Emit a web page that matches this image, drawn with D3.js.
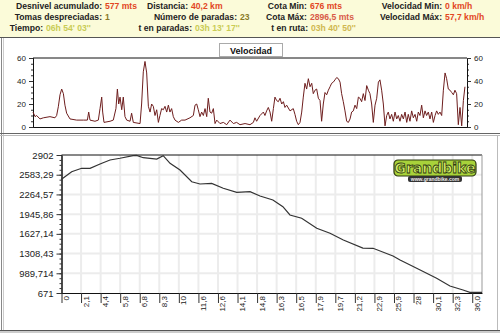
<!DOCTYPE html>
<html>
<head>
<meta charset="utf-8">
<script src="https://cdn.jsdelivr.net/npm/d3@7"></script>
<style>
body { margin: 0; background: #fff; }
svg { display: block; font-family: "Liberation Sans", Arial, sans-serif; }
</style>
</head>
<body>
<div id="root"></div>
<script>
// resumen de la ruta (cabecera)
var infoLabels = [
  ["Desnivel acumulado:", "Tomas despreciadas:", "Tiempo:"],
  ["Distancia:", "Número de paradas:", "t en paradas:"],
  ["Cota Min:", "Cota Máx:", "t en ruta:"],
  ["Velocidad Min:", "Velocidad Máx:"]
];
var infoValues = [
  ["577 mts", "1", "06h 54' 03''"],
  ["40,2 km", "23", "03h 13' 17''"],
  ["676 mts", "2896,5 mts", "03h 40' 50''"],
  ["0 km/h", "57,7 km/h"]
];

// velocidad [km, km/h]
var velocidad = [
  [0,13],[0.17,9],[0.3,10],[0.58,7],[0.86,8],[1.41,9],[1.82,8],[1.96,10],[2.1,17.6],[2.24,28],[2.38,33],[2.52,29],
  [2.65,19],[2.79,12],[3.07,7],[3.62,6],[4.18,6],[4.51,6],[4.62,13],[4.73,6],[5.14,5],[5.42,6],[5.56,16],[5.7,26],
  [5.78,13],[5.89,4],[6.39,5],[6.66,6],[6.88,16],[7.0,33],[7.11,20],[7.22,26],[7.36,15],[7.49,26],[7.63,9],[7.77,6],
  [8.05,5],[8.18,12],[8.32,4],[8.88,3],[9.01,20],[9.15,48],[9.29,57],[9.43,47],[9.57,18],[9.71,13],[9.84,20],[9.98,18],
  [10.12,10],[10.26,15],[10.4,4],[10.53,10],[10.67,16],[10.81,15],[10.95,18],[11.09,13],[11.23,19],[11.36,13],[11.5,16],
  [11.64,9],[11.78,6],[12.06,4],[12.33,6],[12.61,6],[13.02,8],[13.3,10],[13.44,19],[13.58,20],[13.71,15],[13.85,9],
  [13.99,13],[14.13,10],[14.27,16],[14.41,9],[14.54,25],[14.68,13],[14.82,12],[14.96,16],[15.1,3],[15.24,6],[15.51,3],
  [15.79,4],[16.07,2],[16.34,6],[16.62,3],[16.89,4],[17.17,2],[17.59,3],
  [18.0,2],[18.28,4],[18.41,8],[18.55,5],[18.83,10],[19.11,13],[19.24,10],[19.38,14],[19.52,17],[19.66,13],[19.8,5],
  [19.94,16],[20.07,26],[20.21,23],[20.35,22],[20.49,25],[20.63,20],[20.77,22],[20.9,17],[21.04,19],[21.32,14],[21.59,16],
  [21.73,11],[21.87,5],[22.01,2],[22.15,4],[22.29,13],[22.42,26],[22.56,38],[22.7,33],[22.84,42],[22.98,35],[23.12,38],
  [23.25,29],[23.39,32],[23.53,33],[23.67,25],[23.81,23],[23.94,5],[24.08,20],[24.22,30],[24.36,28],[24.5,32],[24.64,35],
  [24.77,38],[24.91,39],[25.05,41],[25.19,43],[25.33,42],[25.47,39],[25.6,29],[25.74,22],[25.88,14],[26.02,5],[26.16,4],
  [26.3,7],[26.43,13],[26.57,14],[26.71,19],[26.85,16],[26.99,26],[27.12,25],[27.26,22],[27.4,29],[27.54,23],[27.68,36],
  [27.82,32],[27.95,29],[28.09,20],[28.23,4],[28.37,19],[28.51,25],[28.65,39],[28.78,41],[28.92,32],[29.06,20],[29.2,1],
  [29.34,10],[29.47,13],[29.61,7],[29.75,11],[29.89,5],[30.03,13],[30.17,7],[30.3,10],[30.44,5],[30.58,11],[30.72,7],
  [30.86,13],[31.0,4],[31.13,11],[31.27,5],[31.41,14],[31.55,8],[31.69,11],[31.83,5],[31.96,13],[32.1,10],[32.24,19],
  [32.38,8],[32.52,14],[32.65,10],[32.79,13],[32.93,7],[33.07,13],[33.21,4],[33.35,10],[33.48,14],[33.62,11],[33.76,13],
  [33.9,10],[34.04,32],[34.18,47],[34.31,42],[34.45,33],[34.59,32],[34.73,30],[34.87,28],[35.0,32],[35.14,29],[35.28,2],
  [35.42,17],[35.56,1],[35.7,23],[35.83,35]
];
var velTicks = [0, 20, 40, 60];

// perfil de altitud [posicion en el eje, metros]
var perfil = [
  [0,2509],[0.52,2632],[1.03,2687],[1.46,2687],[1.97,2756],[2.48,2821],[2.99,2849],[3.66,2891],[3.84,2896],
  [4.18,2858],[4.87,2837],[5.2,2891],[5.55,2768],[6.06,2660],[6.66,2470],[7.08,2433],[7.68,2444],[8.27,2364],
  [8.96,2299],[9.64,2309],[10.15,2239],[10.81,2174],[11.32,2066],[11.68,1932],[12.28,1879],[13.05,1717],[13.73,1636],
  [14.41,1528],[15.41,1398],[15.93,1394],[16.95,1269],[17.31,1204],[18.16,1070],[19.18,909],[19.86,784],[20.53,719],
  [20.88,682],[21.5,682]
];
var altTicks = [671, 989.714, 1308.43, 1627.14, 1945.86, 2264.57, 2583.29, 2902];
var kmLabels = ["0","2,1","4,4","5,8","6,8","8,3","10","11,6","12,6","14,1","14,8","16,3","16,5","17,9",
  "19,7","21,2","22,9","25,9","28","30,1","32,3","36,0"];

var W = 500, H = 333;
var svg = d3.select("#root").append("svg").attr("width", W).attr("height", H);

// fondos y marcos
svg.append("rect").attr("width", W).attr("height", H).attr("fill", "#fff");
svg.append("rect").attr("x", 0).attr("y", 0).attr("width", W).attr("height", 37).attr("fill", "#fbfbd9");
svg.append("line").attr("x1", 0).attr("x2", W).attr("y1", 37.5).attr("y2", 37.5).attr("stroke", "#555");
svg.append("line").attr("x1", 1.5).attr("x2", 1.5).attr("y1", 38).attr("y2", 331).attr("stroke", "#888");
svg.append("line").attr("x1", 3.5).attr("x2", 3.5).attr("y1", 38).attr("y2", 331).attr("stroke", "#ccc");
svg.append("line").attr("x1", 0).attr("x2", W).attr("y1", 133.5).attr("y2", 133.5).attr("stroke", "#666");
svg.append("line").attr("x1", 0).attr("x2", W).attr("y1", 135.5).attr("y2", 135.5).attr("stroke", "#bbb");
svg.append("line").attr("x1", 0).attr("x2", W).attr("y1", 330.5).attr("y2", 330.5).attr("stroke", "#555");
svg.append("rect").attr("x", 0).attr("y", 331).attr("width", W).attr("height", 2).attr("fill", "#ccc");
svg.append("line").attr("x1", 497.5).attr("x2", 497.5).attr("y1", 136).attr("y2", 330).attr("stroke", "#bbb");

// cabecera
var labelEnd = [[102, 102, 43], [188, 237, 192], [307, 307, 308], [442, 442]];
var rowY = [9, 20, 31];
var valueColors = [["#e2461f", "#8a7a28", "#c9cc55"], ["#e2461f", "#8a7a28", "#c9cc55"],
  ["#e2461f", "#d85a48", "#d0b850"], ["#e2461f", "#e2461f"]];
infoLabels.forEach(function(col, ci) {
  col.forEach(function(lab, ri) {
    svg.append("text").attr("x", labelEnd[ci][ri]).attr("y", rowY[ri]).attr("text-anchor", "end")
      .style("font-size", "8.6px").style("font-weight", "bold").attr("fill", "#222").text(lab);
    svg.append("text").attr("x", labelEnd[ci][ri] + 3).attr("y", rowY[ri])
      .style("font-size", "8.6px").style("font-weight", "bold").attr("fill", valueColors[ci][ri]).text(infoValues[ci][ri]);
  });
});

// grafico de velocidad
var vx = d3.scaleLinear().domain([0, 36]).range([33, 467]);
var vy = d3.scaleLinear().domain([0, 60]).range([127, 58]);

svg.append("line").attr("x1", vx(0)).attr("x2", vx(36)).attr("y1", vy(60)).attr("y2", vy(60)).attr("stroke", "#111");

var velMinor = d3.range(0, 61, 5);
svg.append("g").attr("class", "vminorL").attr("transform", "translate(" + vx(0) + ",0)")
  .call(d3.axisLeft(vy).tickValues(velMinor).tickSize(2).tickFormat(""));
svg.append("g").attr("class", "vminorR").attr("transform", "translate(" + vx(36) + ",0)")
  .call(d3.axisRight(vy).tickValues(velMinor).tickSize(2).tickFormat(""));
svg.append("g").attr("class", "axisVL").attr("transform", "translate(" + vx(0) + ",0)")
  .call(d3.axisLeft(vy).tickValues(velTicks).tickSize(4).tickSizeOuter(0));
svg.append("g").attr("class", "axisVR").attr("transform", "translate(" + vx(36) + ",0)")
  .call(d3.axisRight(vy).tickValues(velTicks).tickSize(4).tickSizeOuter(0));
svg.append("g").attr("class", "axisVB").attr("transform", "translate(0," + vy(0) + ")")
  .call(d3.axisBottom(vx).tickValues([]).tickSizeOuter(0));

svg.append("path").datum(velocidad).attr("fill", "none").attr("stroke", "#6e1e1e").attr("stroke-width", 1)
  .attr("d", d3.line().x(function(d) { return vx(d[0]); }).y(function(d) { return vy(d[1]); }));

// leyenda
svg.append("rect").attr("x", 219.5).attr("y", 43.5).attr("width", 63).attr("height", 13)
  .attr("fill", "#fff").attr("stroke", "#aaa");
svg.append("text").attr("x", 251).attr("y", 53.5).attr("text-anchor", "middle")
  .style("font-size", "9px").style("font-weight", "bold").attr("fill", "#111").text("Velocidad");

// grafico de altitud
var ex = d3.scaleLinear().domain([0, 21.5]).range([61.5, 482]);
var ey = d3.scaleLinear().domain([671, 2902]).range([293, 155]);

var grid = svg.append("g").attr("class", "grid");
grid.selectAll(".gx").data(d3.range(1, 22)).enter().append("line")
  .attr("x1", function(d) { return ex(d); }).attr("x2", function(d) { return ex(d); })
  .attr("y1", ey(2902)).attr("y2", ey(671)).attr("stroke", "#ececec").attr("stroke-width", 2);
grid.selectAll(".gy").data(altTicks.slice(1, -1)).enter().append("line")
  .attr("x1", ex(0)).attr("x2", ex(21.5)).attr("y1", function(d) { return ey(d); }).attr("y2", function(d) { return ey(d); })
  .attr("stroke", "#ececec").attr("stroke-width", 2);

svg.append("line").attr("x1", ex(0)).attr("x2", ex(21.5)).attr("y1", ey(2902)).attr("y2", ey(2902)).attr("stroke", "#111");
svg.append("line").attr("x1", ex(21.5)).attr("x2", ex(21.5)).attr("y1", ey(2902)).attr("y2", ey(671)).attr("stroke", "#999");

var altMinor = d3.range(0, 29).map(function(i) { return 671 + i * (2902 - 671) / 28; });
svg.append("g").attr("class", "aminor").attr("transform", "translate(" + ex(0) + ",0)")
  .call(d3.axisLeft(ey).tickValues(altMinor).tickSize(2).tickFormat(""));
svg.append("g").attr("class", "axisA").attr("transform", "translate(" + ex(0) + ",0)")
  .call(d3.axisLeft(ey).tickValues(altTicks).tickSize(5).tickSizeOuter(0)
    .tickFormat(function(d) { return String(d).replace(".", ","); }));

var xAxis = svg.append("g").attr("class", "axisK").attr("transform", "translate(0," + ey(671) + ")")
  .call(d3.axisBottom(ex).tickValues(d3.range(22)).tickSize(10).tickSizeOuter(0)
    .tickFormat(function(d) { return kmLabels[d]; }));
xAxis.selectAll("text").attr("transform", "rotate(-90)").attr("text-anchor", "end")
  .attr("x", -3).attr("y", 7).attr("dy", 0);

svg.append("path").datum(perfil).attr("fill", "none").attr("stroke", "#333").attr("stroke-width", 1.2)
  .attr("d", d3.line().x(function(d) { return ex(d[0]); }).y(function(d) { return ey(d[1]); }));

// estilo de ejes
svg.selectAll(".axisVL text, .axisVR text").style("font-size", "8px").attr("fill", "#222");
svg.selectAll(".axisA text").style("font-size", "9.5px").attr("fill", "#222");
svg.selectAll(".axisK text").style("font-size", "8px").attr("fill", "#222");
svg.selectAll(".domain").attr("stroke", "#111");
svg.selectAll(".tick line").attr("stroke", "#333");

// logo
var logo = svg.append("g").attr("transform", "translate(394,160)");
logo.append("rect").attr("x", 0).attr("y", 0).attr("width", 82).attr("height", 16).attr("rx", 4)
  .attr("fill", "#a8d23a").attr("stroke", "#2f3a12").attr("stroke-width", 1.2);
logo.append("text").attr("x", 41).attr("y", 13).attr("text-anchor", "middle")
  .style("font-size", "14px").style("font-weight", "bold").style("font-family", "'DejaVu Sans', sans-serif")
  .attr("fill", "#d8f26a").attr("stroke", "#2f3a12").attr("stroke-width", 0.8).text("Grandbike");
logo.append("rect").attr("x", 14).attr("y", 16).attr("width", 54).attr("height", 6).attr("rx", 2).attr("fill", "#333");
logo.append("text").attr("x", 41).attr("y", 21).attr("text-anchor", "middle")
  .style("font-size", "5px").style("font-weight", "bold").attr("fill", "#eee").text("www.grandbike.com");
</script>
</body>
</html>
